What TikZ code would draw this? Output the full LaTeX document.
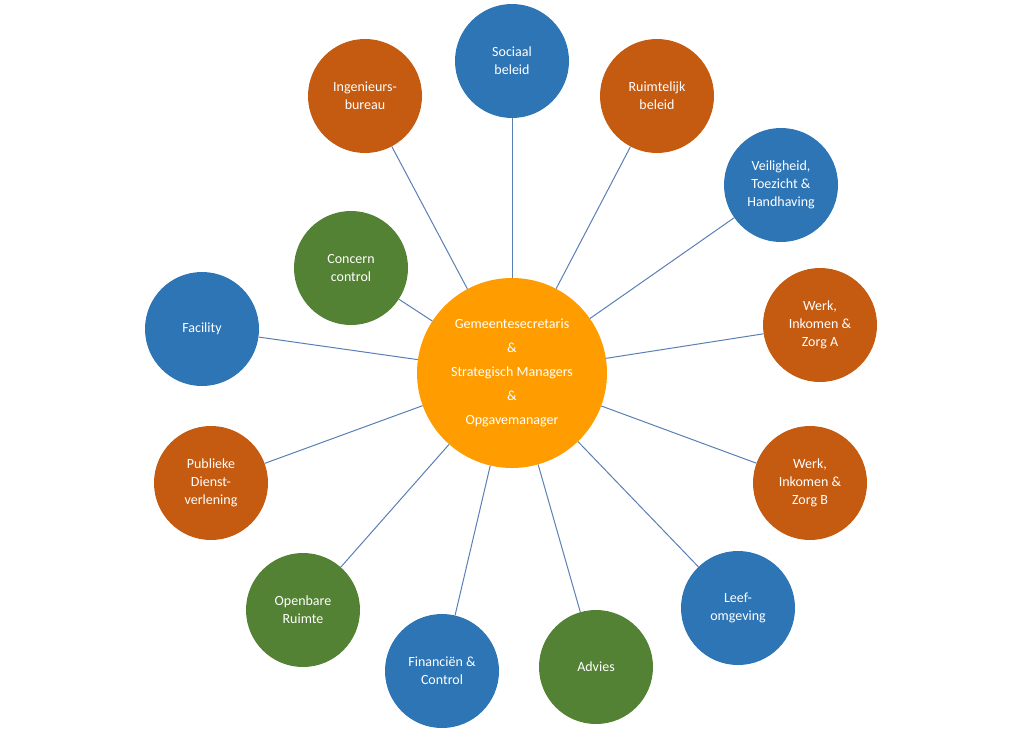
\documentclass[tikz,border=0pt]{standalone}
\usepackage{fontspec}
\setmainfont{Carlito}
\definecolor{cblue}{HTML}{2E75B6}
\definecolor{corange}{HTML}{C55A11}
\definecolor{cgreen}{HTML}{548235}
\definecolor{ccenter}{HTML}{FF9D00}
\definecolor{cline}{HTML}{5A7FB5}
\tikzset{
	unit/.style={circle, minimum size=114pt, inner sep=0pt, text=white, align=center, font=\fontsize{14}{18}\selectfont},
	link/.style={draw=cline, line width=1pt}
}
\begin{document}
\begin{tikzpicture}[x=1pt, y=-1pt]
	\useasboundingbox (0,0) rectangle (1024,741);
	% midden
	\node[unit, fill=ccenter, minimum size=190pt, font=\fontsize{14}{24}\selectfont] (center) at (512,373)
		{Gemeentesecretaris\\\&\\Strategisch Managers\\\&\\Opgavemanager};
	% afdelingen
	\node[unit, fill=cblue] (sociaal) at (512,61) {Sociaal\\beleid};
	\node[unit, fill=corange] (ruimtelijk) at (657,96) {Ruimtelijk\\beleid};
	\node[unit, fill=cblue] (veiligheid) at (781,185) {Veiligheid,\\Toezicht \&\\Handhaving};
	\node[unit, fill=corange] (werka) at (820,325) {Werk,\\Inkomen \&\\Zorg A};
	\node[unit, fill=corange] (werkb) at (810,483) {Werk,\\Inkomen \&\\Zorg B};
	\node[unit, fill=cblue] (leef) at (738,608) {Leef-\\omgeving};
	\node[unit, fill=cgreen] (advies) at (596,667) {Advies};
	\node[unit, fill=cblue] (financien) at (442,671) {Financiën \&\\Control};
	\node[unit, fill=cgreen] (openbaar) at (303,610) {Openbare\\Ruimte};
	\node[unit, fill=corange] (publiek) at (211,483) {Publieke\\Dienst-\\verlening};
	\node[unit, fill=cblue] (facility) at (202,329) {Facility};
	\node[unit, fill=cgreen] (concern) at (351,268) {Concern\\control};
	\node[unit, fill=corange] (ingenieurs) at (365,96) {Ingenieurs-\\bureau};
	% verbindingen
	\foreach \n in {sociaal,ruimtelijk,veiligheid,werka,werkb,leef,advies,financien,openbaar,publiek,facility,concern,ingenieurs}
		\draw[link] (center) -- (\n);
\end{tikzpicture}
\end{document}
